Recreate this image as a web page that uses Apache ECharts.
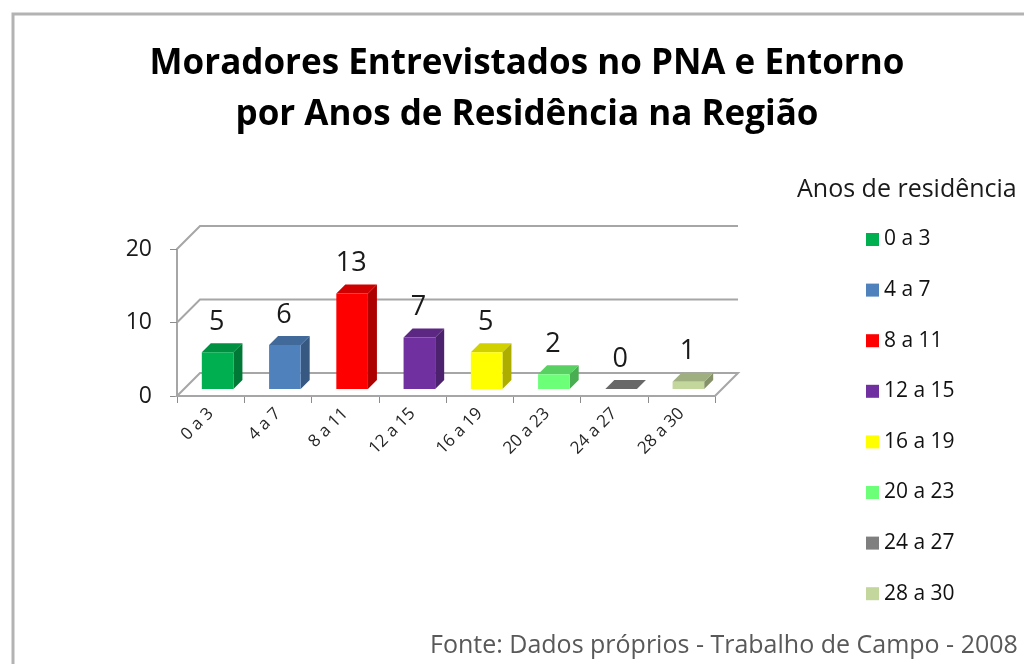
<!DOCTYPE html>
<html>
<head>
<meta charset="utf-8">
<title>Moradores Entrevistados no PNA e Entorno</title>
<script src="https://cdn.jsdelivr.net/npm/echarts@6/dist/echarts.min.js"></script>
<style>
  html, body { margin: 0; padding: 0; background: #ffffff; }
  #chart { width: 1024px; height: 664px; }
</style>
</head>
<body>
<div id="chart"></div>
<script>
// 数据
const categories = ['0 a 3', '4 a 7', '8 a 11', '12 a 15', '16 a 19', '20 a 23', '24 a 27', '28 a 30'];
const values = [5, 6, 13, 7, 5, 2, 0, 1];
const barColors = ['#00b050', '#4f81bd', '#ff0000', '#7030a0', '#ffff00', '#6cff78', '#7f7f7f', '#c3d69b'];
const yTicks = [0, 10, 20];

// 样式常量
const FONT = '"Open Sans", Lato, sans-serif';
const GRID_COLOR = '#a6a6a6';
const WALL_DEPTH = 23;   // 背景墙的纵深偏移
const BAR_SHIFT = 7;     // 柱子前表面离地板前沿的距离
const BAR_DEPTH = 9;     // 柱子自身的厚度

const chart = echarts.init(document.getElementById('chart'));

// 颜色变暗
function shade(color, k) {
    const c = echarts.color.parse(color);
    return 'rgb(' + Math.round(c[0] * k) + ',' + Math.round(c[1] * k) + ',' + Math.round(c[2] * k) + ')';
}

// 地板和背景网格线
function renderWall(params, api) {
    const cs = params.coordSys;
    const v = api.value(1);
    const y = api.coord([0, v])[1];
    const x0 = cs.x;
    const x1 = cs.x + cs.width;
    const d = WALL_DEPTH;
    if (v === 0) {
        return {
            type: 'polygon',
            shape: { points: [[x0, y], [x1, y], [x1 + d, y - d], [x0 + d, y - d]] },
            style: { fill: '#ffffff', stroke: GRID_COLOR, lineWidth: 2 }
        };
    }
    return {
        type: 'polyline',
        shape: { points: [[x0, y], [x0 + d, y - d], [x1 + d, y - d]] },
        style: { fill: null, stroke: GRID_COLOR, lineWidth: 2 }
    };
}

// 立体柱子
function renderBar(params, api) {
    const idx = api.value(0);
    const val = api.value(1);
    const base = api.coord([idx, 0]);
    const top = api.coord([idx, val]);
    const band = api.size([1, 0])[0];
    const w = band * 0.47;
    const color = api.visual('color');
    const cx = base[0] + BAR_SHIFT;
    const xl = cx - w / 2;
    const xr = cx + w / 2;
    const yb = base[1] - BAR_SHIFT;
    const yt = top[1] - BAR_SHIFT;
    const d = BAR_DEPTH;
    return {
        type: 'group',
        children: [
            {
                type: 'polygon',
                shape: { points: [[xr, yt], [xr + d, yt - d], [xr + d, yb - d], [xr, yb]] },
                style: { fill: shade(color, 0.68) }
            },
            {
                type: 'polygon',
                shape: { points: [[xl, yt], [xr, yt], [xr + d, yt - d], [xl + d, yt - d]] },
                style: { fill: shade(color, 0.82) }
            },
            {
                type: 'rect',
                shape: { x: xl, y: yt, width: w, height: yb - yt },
                style: { fill: color }
            },
            {
                type: 'text',
                style: {
                    text: String(val),
                    x: cx - 1,
                    y: yt - 30,
                    align: 'center',
                    verticalAlign: 'middle',
                    font: '27px ' + FONT,
                    fill: '#1a1a1a'
                }
            }
        ]
    };
}

const series = [{
    name: 'wall',
    type: 'custom',
    renderItem: renderWall,
    data: yTicks.map(v => [0, v]),
    encode: { x: 0, y: 1 },
    silent: true,
    z: 1
}];

categories.forEach((name, i) => {
    series.push({
        name: name,
        type: 'custom',
        renderItem: renderBar,
        itemStyle: { color: barColors[i] },
        data: [[i, values[i]]],
        encode: { x: 0, y: 1 },
        clip: false,
        z: 2
    });
});

const option = {
    backgroundColor: '#ffffff',
    animation: false,
    title: [
        {
            text: 'Moradores Entrevistados no PNA e Entorno\npor Anos de Residência na Região',
            left: 522,
            top: 34,
            textAlign: 'center',
            textStyle: { fontFamily: FONT, fontSize: 35, fontWeight: 'bold', color: '#000000', lineHeight: 51 }
        },
        {
            text: 'Anos de residência',
            left: 792,
            top: 172,
            textStyle: { fontFamily: FONT, fontSize: 25, fontWeight: 'normal', color: '#1a1a1a' }
        },
        {
            text: 'Fonte: Dados próprios - Trabalho de Campo - 2008',
            left: 425,
            top: 628,
            textStyle: { fontFamily: FONT, fontSize: 25, fontWeight: 'normal', color: '#595959' }
        }
    ],
    legend: {
        data: categories,
        orient: 'vertical',
        left: 861,
        top: 224,
        itemWidth: 13,
        itemHeight: 13,
        itemGap: 29.6,
        icon: 'rect',
        textStyle: { fontFamily: FONT, fontSize: 21, color: '#111111' }
    },
    grid: { left: 177, right: 309, top: 249, bottom: 268 },
    xAxis: {
        type: 'category',
        data: categories,
        axisLine: { lineStyle: { color: GRID_COLOR, width: 2 } },
        axisTick: { show: true, length: 7, lineStyle: { color: '#8c8c8c' } },
        axisLabel: { rotate: 45, margin: 15, fontFamily: FONT, fontSize: 17, color: '#262626' }
    },
    yAxis: {
        type: 'value',
        min: 0,
        max: 20,
        interval: 10,
        axisLine: { show: true, lineStyle: { color: GRID_COLOR, width: 2 } },
        axisTick: { show: true, length: 7, lineStyle: { color: '#8c8c8c' } },
        axisLabel: { margin: 25, fontFamily: FONT, fontSize: 23, color: '#1a1a1a' },
        splitLine: { show: false }
    },
    graphic: [{
        type: 'rect',
        shape: { x: 13, y: 14, width: 1100, height: 800 },
        style: { fill: null, stroke: '#b3b3b3', lineWidth: 3 },
        z: -1
    }],
    series: series
};

chart.setOption(option);
</script>
</body>
</html>
